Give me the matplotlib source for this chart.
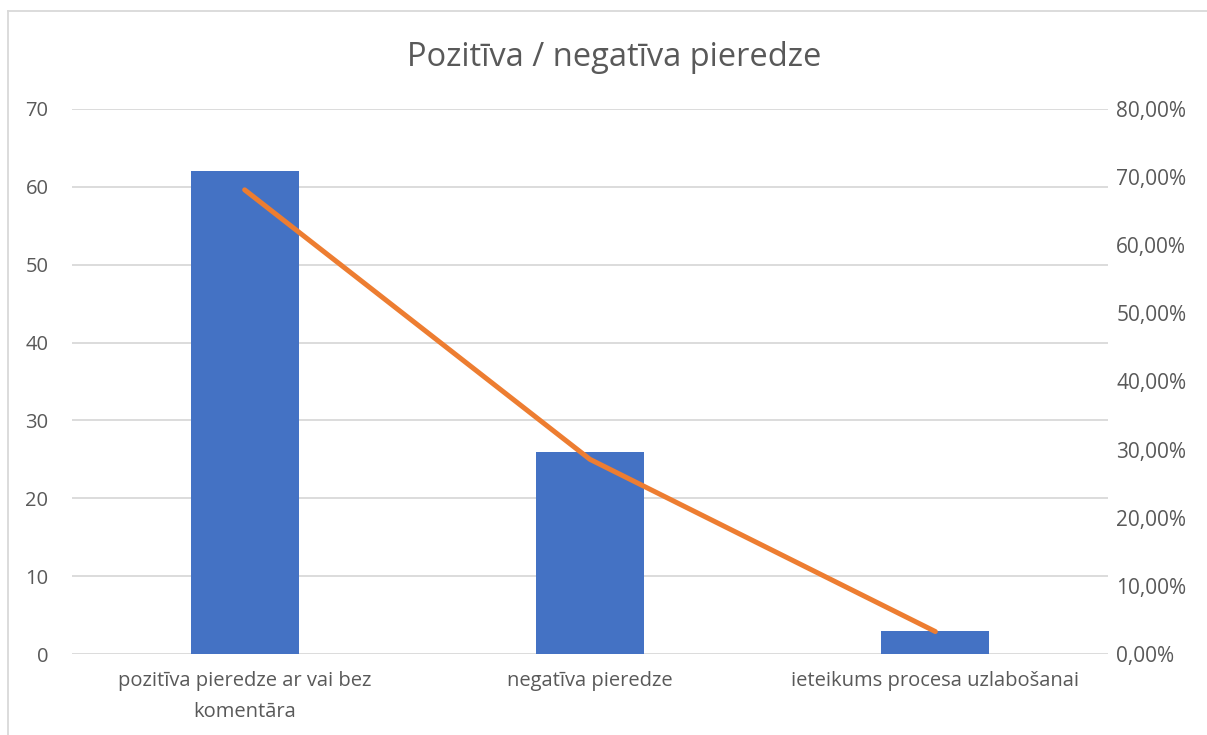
import matplotlib.pyplot as plt
from matplotlib.lines import Line2D
from matplotlib.ticker import FuncFormatter

plt.rcParams['font.family'] = ['Open Sans', 'DejaVu Sans']

categories = ['pozitīva pieredze ar vai bez\nkomentāra', 'negatīva pieredze', 'ieteikums procesa uzlabošanai']
counts = [62, 26, 3]
shares = [c / sum(counts) for c in counts]

TEXT = '#595959'
GRID = '#D9D9D9'

fig = plt.figure(figsize=(12.07, 7.35), dpi=100)
ax = fig.add_axes([72 / 1207, 1 - 654 / 735, (1108 - 72) / 1207, (654 - 109) / 735])
x = list(range(len(categories)))
ax.bar(x, counts, width=0.313, color='#4472C4', zorder=2)
ax.set_xlim(-0.5, 2.5)
ax.set_ylim(0, 70)
ax.set_yticks(range(0, 71, 10))
ax.grid(axis='y', color=GRID, linewidth=1.3, zorder=0)
ax.set_xticks(x)
ax.set_xticklabels(categories, linespacing=1.75)
ax.tick_params(axis='both', length=0, labelsize=14.5, colors=TEXT)
ax.tick_params(axis='x', pad=12)
ax.tick_params(axis='y', pad=17)
for s in ax.spines.values():
    s.set_visible(False)

ax2 = ax.twinx()
ax2.plot(x, shares, color='#ED7D31', linewidth=3.6, solid_capstyle='round', zorder=3)
ax2.set_ylim(0, 0.8)
ax2.set_yticks([i / 10 for i in range(9)])
ax2.yaxis.set_major_formatter(FuncFormatter(lambda v, p: f'{v * 100:.2f}%'.replace('.', ',')))
ax2.tick_params(axis='y', length=0, labelsize=15, colors=TEXT, pad=6)
for s in ax2.spines.values():
    s.set_visible(False)

fig.text(614 / 1207, 1 - 57 / 735, 'Pozitīva / negatīva pieredze', ha='center', va='center',
         fontsize=23.5, color=TEXT)
top = 1 - 11 / 735
left = 7.5 / 1207
fig.add_artist(Line2D([left, 1], [top, top], transform=fig.transFigure, color=GRID, linewidth=1.3))
fig.add_artist(Line2D([left, left], [0, top], transform=fig.transFigure, color=GRID, linewidth=1.3))

fig.savefig('out.png', dpi=100)
